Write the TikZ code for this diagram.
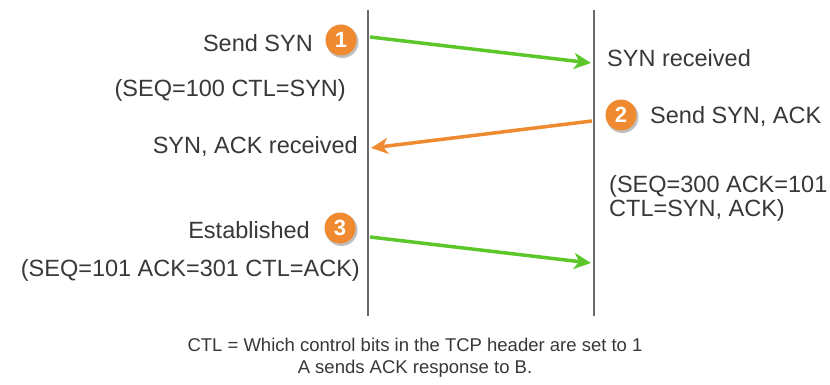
\documentclass[tikz,border=0pt]{standalone}
\usepackage{fontspec}
\setmainfont{Liberation Sans}
\usetikzlibrary{arrows.meta}
\definecolor{txt}{HTML}{383838}
\definecolor{lifeline}{HTML}{6A6A6A}
\definecolor{grn}{HTML}{5CC72A}
\definecolor{org}{HTML}{F08A30}
\tikzset{
  lbl/.style={text=txt, font=\fontsize{23.5}{24}\selectfont, inner sep=0pt},
  note/.style={text=txt, font=\fontsize{18.5}{22}\selectfont, inner sep=0pt},
  badge/.style={circle, fill=org, minimum size=31pt, inner sep=0pt, text=white, font=\fontsize{22}{22}\selectfont\bfseries},
  life/.style={draw=lifeline, line width=2.8pt},
  msg/.style={line width=3.5pt, -{Stealth[length=17pt,width=16pt,inset=5pt]}}
}
\begin{document}
\begin{tikzpicture}[x=1pt,y=-1pt]
\useasboundingbox (0,0) rectangle (830,385);
\fill[white] (0,0) rectangle (830,385);
% lifelines
\coordinate (At) at (368,10); \coordinate (Ab) at (368,316);
\coordinate (Bt) at (594,10); \coordinate (Bb) at (594,316);
\draw[life] (At) -- (Ab);
\draw[life] (Bt) -- (Bb);
% message endpoints
\coordinate (m1s) at (370,37); \coordinate (m1e) at (591,63);
\coordinate (m2s) at (592,121); \coordinate (m2e) at (371,148);
\coordinate (m3s) at (370,237); \coordinate (m3e) at (591,263);
\draw[msg, grn] (m1s) -- (m1e);
\draw[msg, org] (m2s) -- (m2e);
\draw[msg, grn] (m3s) -- (m3e);
% badges
\fill[black!25] (342.5,42) circle (16pt);
\fill[black!25] (622.5,117) circle (16pt);
\fill[black!25] (341.5,230) circle (16pt);
\node[badge] (b1) at (341,40) {1};
\node[badge] (b2) at (621,115) {2};
\node[badge] (b3) at (340,228) {3};
% labels
\node[lbl, anchor=east] (t1) at (313,43) {Send SYN};
\node[lbl, anchor=east] (t1b) at (346,90) {(SEQ=100 CTL=SYN)};
\node[lbl, anchor=west] (t2) at (607,58) {SYN received};
\node[lbl, anchor=west] (t3) at (650,116) {Send SYN, ACK};
\node[lbl, anchor=east] (t4) at (358,146) {SYN, ACK received};
\node[lbl, anchor=west, align=left] (t5) at (609,198) {(SEQ=300 ACK=101\\CTL=SYN, ACK)};
\node[lbl, anchor=east] (t6) at (310,230) {Established};
\node[lbl, anchor=east] (t7) at (360,270) {(SEQ=101 ACK=301 CTL=ACK)};
\node[note, align=center] (t8) at (415,358) {CTL = Which control bits in the TCP header are set to 1\\A sends ACK response to B.};
\end{tikzpicture}
\end{document}
